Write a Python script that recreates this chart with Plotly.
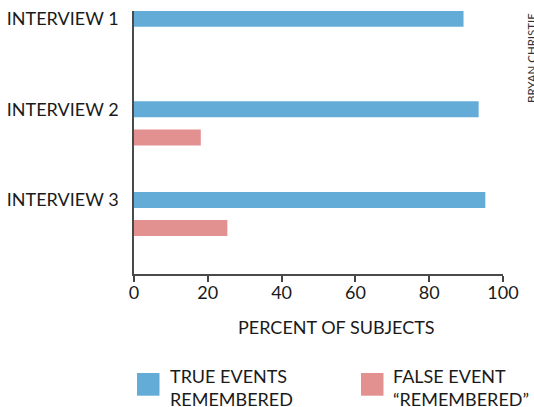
import plotly.graph_objects as go

interviews = ["INTERVIEW 1", "INTERVIEW 2", "INTERVIEW 3"]
true_events = [89.3, 93.4, 95.2]
false_events = [None, 18.1, 25.3]
series_names = ["TRUE EVENTS<br>REMEMBERED", "FALSE EVENT<br>“REMEMBERED”"]
x_ticks = [0, 20, 40, 60, 80, 100]

BLUE = "#62acd7"
PINK = "#e39091"
FONT = "Lato"
TXT = "#1a1a1a"

pos = list(range(len(interviews)))

fig = go.Figure()
fig.add_trace(go.Bar(x=true_events, y=pos, orientation="h", marker_color=BLUE,
                     marker_line_width=0, name="true", showlegend=False, hoverinfo="skip"))
fig.add_trace(go.Bar(x=false_events, y=pos, orientation="h", marker_color=PINK,
                     marker_line_width=0, name="false", showlegend=False, hoverinfo="skip"))

L, R, T, B = 134, 31, 11, 133
W, H = 534, 407
pw = W - L - R
ph = H - T - B
k = 90.6  # px per category
ymin = -(32.8 - T) / k
ymax = ymin + ph / k

fig.update_layout(
    width=W, height=H,
    margin=dict(l=L, r=R, t=T, b=B, autoexpand=False),
    paper_bgcolor="white", plot_bgcolor="white",
    barmode="group", bargap=0.38, bargroupgap=0.43,
    font=dict(family=FONT, color=TXT),
    xaxis=dict(range=[0, 100], tickvals=x_ticks, ticks="outside", ticklen=6,
               tickcolor="#444", tickwidth=1.5, showline=True, linecolor="#4a4a4a",
               linewidth=1.5, showgrid=False, zeroline=False, automargin=False,
               ticklabelstandoff=-4,
               tickfont=dict(size=18, family=FONT, color=TXT)),
    yaxis=dict(range=[ymax, ymin], tickvals=[p - 14 / k for p in pos], ticktext=interviews,
               showline=True, linecolor="#4a4a4a", linewidth=1.5, showgrid=False,
               zeroline=False, ticks="", ticklabelstandoff=10, automargin=False,
               tickfont=dict(size=18, family=FONT, color=TXT)),
)

def px2x(px):
    return (px - L) / pw

def py2y(py):
    return (H - B - py) / ph

fig.add_annotation(text="PERCENT OF SUBJECTS", xref="paper", yref="paper",
                   x=px2x(336.7), y=py2y(327), xanchor="center", yanchor="middle",
                   showarrow=False, font=dict(size=18, family=FONT, color=TXT))

# legend
leg = [(BLUE, 137, 168), (PINK, 361, 391)]
for (col, sx, tx), name in zip(leg, series_names):
    fig.add_shape(type="rect", xref="paper", yref="paper",
                  x0=px2x(sx), x1=px2x(sx + 22.5), y0=py2y(373), y1=py2y(395.7),
                  fillcolor=col, line_width=0)
    fig.add_annotation(text=name, xref="paper", yref="paper", x=px2x(tx), y=py2y(387),
                       xanchor="left", yanchor="middle", align="left", showarrow=False,
                       font=dict(size=18, family=FONT, color=TXT))

fig.add_annotation(text="BRYAN CHRISTIE", xref="paper", yref="paper",
                   x=px2x(532), y=py2y(58), xanchor="center", yanchor="middle",
                   textangle=-90, showarrow=False,
                   font=dict(size=11.5, family=FONT, color="#333"))

fig.write_html("out.html", config={"displayModeBar": False},
               post_script="document.body.style.margin='0';document.body.style.overflow='hidden';")
